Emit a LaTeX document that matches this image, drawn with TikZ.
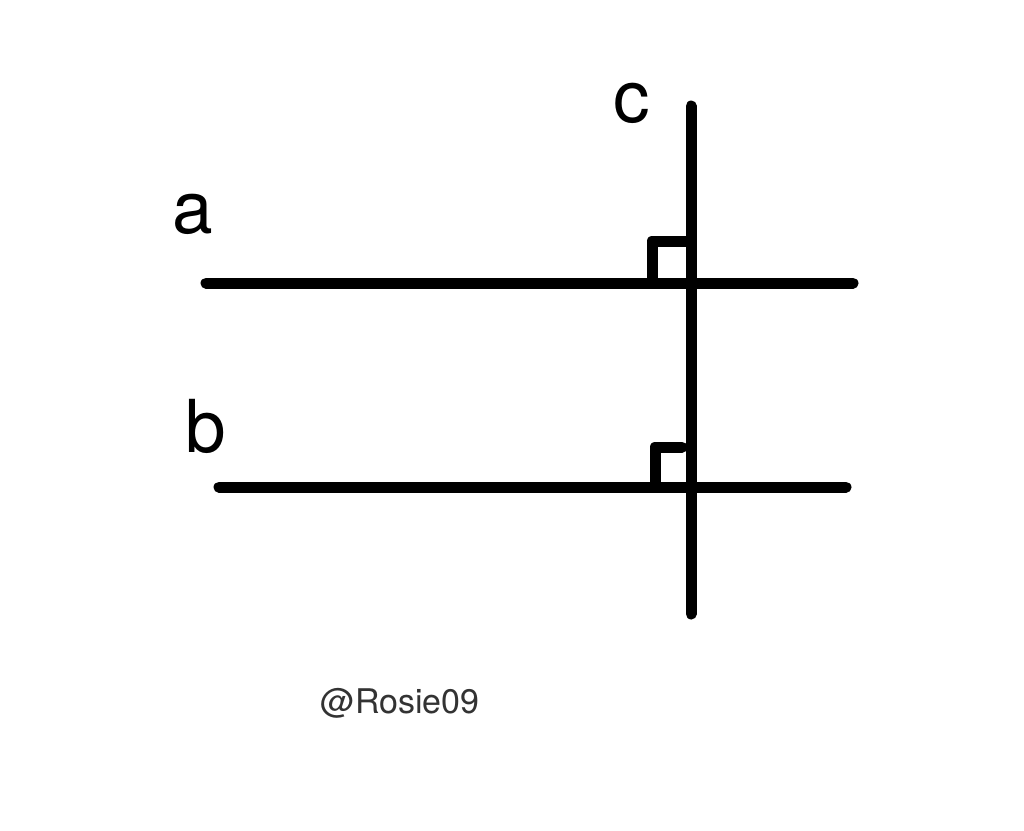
\documentclass[tikz,border=0pt]{standalone}
\usepackage{fontspec}
\setmainfont{TeX Gyre Heros}
\begin{document}
\begin{tikzpicture}[x=1pt,y=-1pt,
  geoline/.style={line width=11pt,line cap=round,line join=round,black},
  lbl/.style={font=\fontsize{73}{80}\selectfont,inner sep=0pt},
  wm/.style={font=\fontsize{34}{40}\selectfont,inner sep=0pt,text=black!80}]
\useasboundingbox[fill=white] (0,0) rectangle (1024,830);
\coordinate (a1) at (206,283);
\coordinate (a2) at (853,283);
\coordinate (b1) at (219,487);
\coordinate (b2) at (846,487);
\coordinate (c1) at (691,106);
\coordinate (c2) at (691,614);
\draw[geoline] (a1) -- (a2);
\draw[geoline] (b1) -- (b2);
\draw[geoline] (c1) -- (c2);
\coordinate (ra1) at (652,283);
\coordinate (ra2) at (652,241);
\coordinate (ra3) at (691,241);
\draw[geoline,line cap=butt] (ra1) -- (ra2) -- (ra3);
\coordinate (rb1) at (655,487);
\coordinate (rb2) at (655,447);
\coordinate (rb3) at (682,447);
\draw[geoline] (rb1) -- (rb2) -- (rb3);
\node[lbl,anchor=base] (la) at (193,233) {a};
\node[lbl,anchor=base] (lb) at (206,452) {b};
\node[lbl,anchor=base] (lc) at (632,122) {c};
\node[wm,anchor=base] (w) at (400,713) {@Rosie09};
\end{tikzpicture}
\end{document}
